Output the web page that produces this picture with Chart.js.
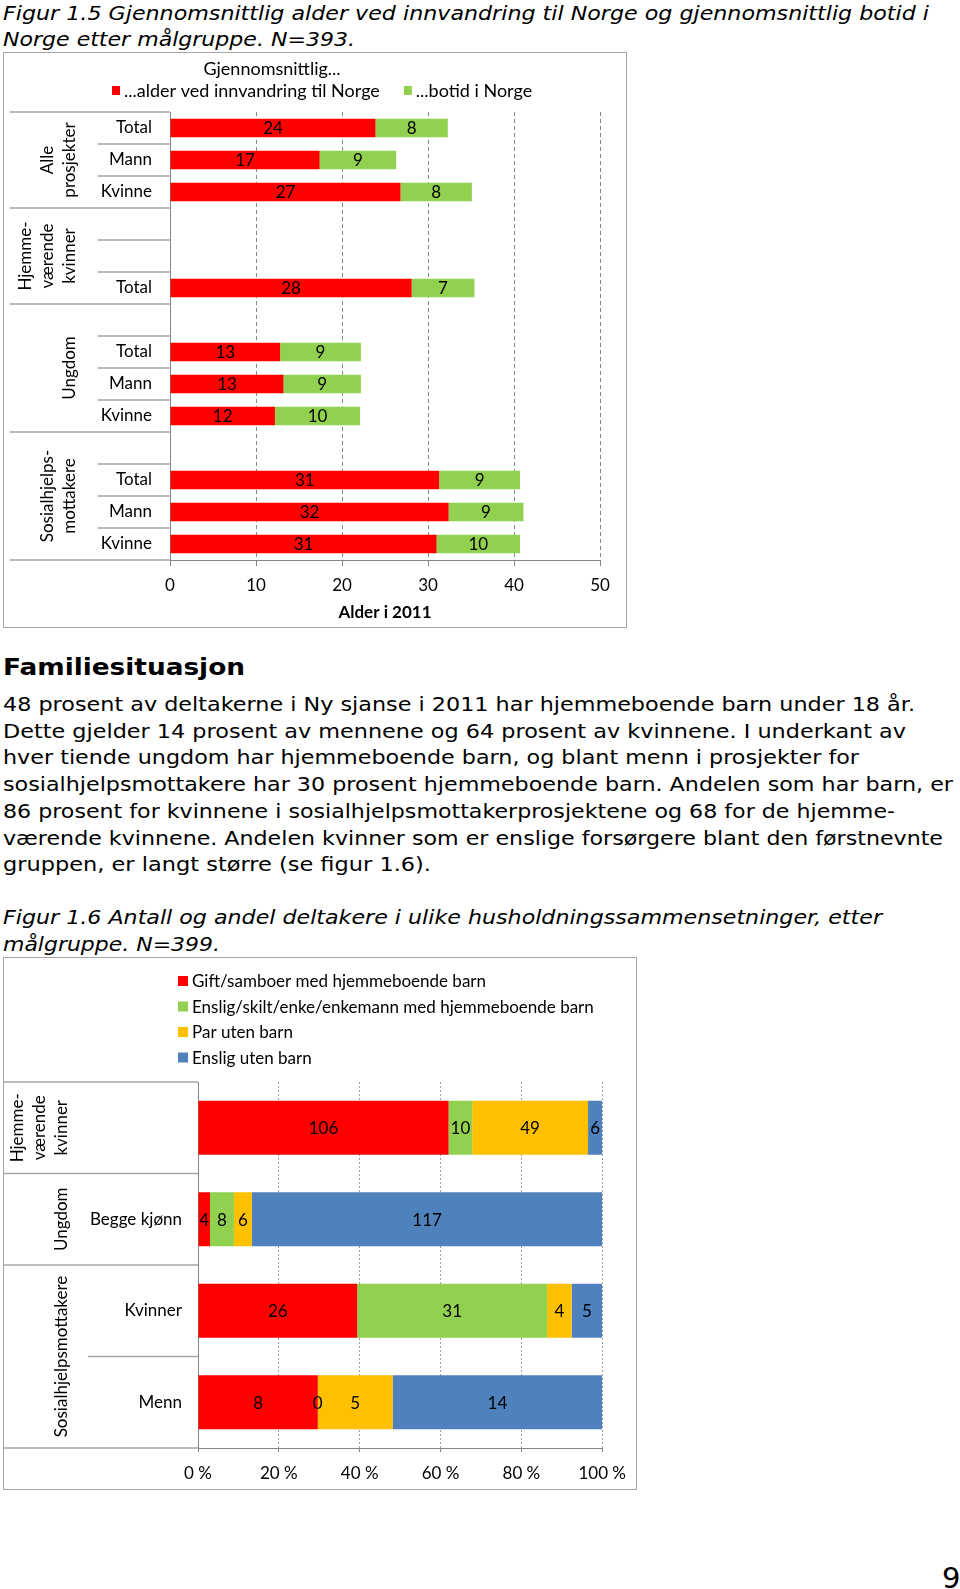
<!DOCTYPE html>
<html lang="no">
<head>
<meta charset="utf-8">
<title>Figur 1.5 og 1.6</title>
<script src="https://cdn.jsdelivr.net/npm/chart.js@4"></script>
<style>
  html, body { margin: 0; padding: 0; background: #fff; }
  body { width: 960px; height: 1589px; position: relative; overflow: hidden;
         font-family: "DejaVu Sans", Verdana, sans-serif; color: #000; }
  .linje { position: absolute; left: 3px; white-space: nowrap; font-size: 19px;
           line-height: 26px; transform-origin: 0 0; }
  .kursiv { font-style: italic; }
  .boks { position: absolute; border: 1.5px solid #a6a6a6; box-sizing: border-box; }
  canvas { position: absolute; }
</style>
</head>
<body>

<div class="linje kursiv" style="top:0px" data-w="926">Figur 1.5 Gjennomsnittlig alder ved innvandring til Norge og gjennomsnittlig botid i</div>
<div class="linje kursiv" style="top:26px" data-w="352">Norge etter målgruppe. N=393.</div>

<div class="boks" style="left:3px;top:52px;width:624px;height:576px"></div>
<canvas id="figur15" width="624" height="576" style="left:3px;top:52px"></canvas>

<div class="linje" style="top:653px;font-size:23px;line-height:28px;font-weight:bold" data-w="242">Familiesituasjon</div>
<div class="linje" style="top:691px" data-w="912">48 prosent av deltakerne i Ny sjanse i 2011 har hjemmeboende barn under 18 år.</div>
<div class="linje" style="top:718px" data-w="903">Dette gjelder 14 prosent av mennene og 64 prosent av kvinnene. I underkant av</div>
<div class="linje" style="top:744px" data-w="856">hver tiende ungdom har hjemmeboende barn, og blant menn i prosjekter for</div>
<div class="linje" style="top:771px" data-w="950">sosialhjelpsmottakere har 30 prosent hjemmeboende barn. Andelen som har barn, er</div>
<div class="linje" style="top:798px" data-w="892">86 prosent for kvinnene i sosialhjelpsmottakerprosjektene og 68 for de hjemme-</div>
<div class="linje" style="top:825px" data-w="940">værende kvinnene. Andelen kvinner som er enslige forsørgere blant den førstnevnte</div>
<div class="linje" style="top:851px" data-w="428">gruppen, er langt større (se figur 1.6).</div>

<div class="linje kursiv" style="top:904px" data-w="879">Figur 1.6 Antall og andel deltakere i ulike husholdningssammensetninger, etter</div>
<div class="linje kursiv" style="top:931px" data-w="217">målgruppe. N=399.</div>

<div class="boks" style="left:3px;top:957px;width:634px;height:533px"></div>
<canvas id="figur16" width="634" height="533" style="left:3px;top:957px"></canvas>

<div class="linje" style="left:942px;top:1561px;font-size:29px;line-height:34px">9</div>

<script>
// Figur 1.5: gjennomsnittlig alder ved innvandring og botid (år)
const radTop = ['Total', 'Mann', 'Kvinne', '', '', 'Total', '', 'Total', 'Mann', 'Kvinne', '', 'Total', 'Mann', 'Kvinne'];
const alderVedInnvandring = [23.9, 17.4, 26.8, null, null, 28.1, null, 12.8, 13.2, 12.2, null, 31.3, 32.4, 31.0];
const botidINorge = [8.4, 8.9, 8.3, null, null, 7.3, null, 9.4, 9.0, 9.9, null, 9.4, 8.7, 9.7];
const serieNavnTop = ['...alder ved innvandring til Norge', '...botid i Norge'];
const legendeTittelTop = 'Gjennomsnittlig...';
const grupperTop = [
  { navn: ['Alle', 'prosjekter'], fra: 0, til: 2 },
  { navn: ['Hjemme-', 'værende', 'kvinner'], fra: 3, til: 5 },
  { navn: ['Ungdom'], fra: 6, til: 9 },
  { navn: ['Sosialhjelps-', 'mottakere'], fra: 10, til: 13 },
];
const alderTicks = [0, 10, 20, 30, 40, 50];

// Figur 1.6: antall deltakere per husholdningstype
const radBunn = ['', 'Begge kjønn', 'Kvinner', 'Menn'];
const giftMedBarn = [106, 4, 26, 8];
const ensligMedBarn = [10, 8, 31, 0];
const parUtenBarn = [49, 6, 4, 5];
const ensligUtenBarn = [6, 117, 5, 14];
const serieNavnBunn = [
  'Gift/samboer med hjemmeboende barn',
  'Enslig/skilt/enke/enkemann med hjemmeboende barn',
  'Par uten barn',
  'Enslig uten barn',
];
const grupperBunn = [
  { navn: ['Hjemme-', 'værende', 'kvinner'], fra: 0, til: 0 },
  { navn: ['Ungdom'], fra: 1, til: 1 },
  { navn: ['Sosialhjelpsmottakere'], fra: 2, til: 3 },
];
const prosentTicks = [0, 20, 40, 60, 80, 100];

const RED = '#ff0000', GREEN = '#92d050', YELLOW = '#ffc000', BLUE = '#4f81bd';
const LINJE = '#a6a6a6', AKSE = '#868686';

Chart.defaults.font.family = 'Lato';
Chart.defaults.font.size = 17;
Chart.defaults.color = '#000';

// tilpass tekstlinjene til bredden i originalen
document.querySelectorAll('.linje[data-w]').forEach(function (el) {
  const w = el.getBoundingClientRect().width;
  el.style.transform = 'scaleX(' + (+el.dataset.w / w) + ')';
});

function etiketter(tekst) {
  return {
    id: 'etiketter',
    afterDatasetsDraw(chart) {
      const ctx = chart.ctx;
      ctx.save();
      ctx.font = '17px Lato';
      ctx.fillStyle = '#000';
      ctx.textAlign = 'center';
      ctx.textBaseline = 'middle';
      chart.data.datasets.forEach(function (ds, i) {
        chart.getDatasetMeta(i).data.forEach(function (bar, j) {
          const t = tekst(i, j);
          if (t == null) return;
          ctx.fillText(t, (bar.x + bar.base) / 2, bar.y + 1);
        });
      });
      ctx.restore();
    },
  };
}

// linjer og gruppetekster til venstre for diagrammet
function tabell(grupper, o) {
  return {
    id: 'tabell',
    afterDraw(chart) {
      const ctx = chart.ctx;
      const y = chart.scales.y;
      const n = chart.data.labels.length;
      const halv = (y.getPixelForValue(1) - y.getPixelForValue(0)) / 2;
      const grenser = [0];
      grupper.forEach(function (g) { grenser.push(g.til + 1); });
      ctx.save();
      ctx.strokeStyle = LINJE;
      ctx.lineWidth = 1.5;
      for (let i = 0; i <= n; i++) {
        const py = i < n ? y.getPixelForValue(i) - halv : y.getPixelForValue(n - 1) + halv;
        const x0 = grenser.includes(i) ? o.gruppeX : o.radX;
        ctx.beginPath();
        ctx.moveTo(x0, py);
        ctx.lineTo(chart.chartArea.left, py);
        ctx.stroke();
      }
      ctx.fillStyle = '#000';
      ctx.font = '17px Lato';
      ctx.textAlign = 'center';
      ctx.textBaseline = 'middle';
      grupper.forEach(function (g) {
        const midt = (y.getPixelForValue(g.fra) + y.getPixelForValue(g.til)) / 2;
        g.navn.forEach(function (t, k) {
          const px = o.tekstX - (g.navn.length - 1 - k) * o.avstand;
          ctx.save();
          ctx.translate(px, midt);
          ctx.rotate(-Math.PI / 2);
          ctx.fillText(t, 0, 0);
          ctx.restore();
        });
      });
      ctx.restore();
    },
  };
}

const legendeTop = {
  id: 'legendeTop',
  afterDraw(chart) {
    const ctx = chart.ctx;
    ctx.save();
    ctx.font = '18px Lato';
    ctx.fillStyle = '#000';
    ctx.textBaseline = 'middle';
    ctx.textAlign = 'center';
    ctx.fillText(legendeTittelTop, 269, 17);
    ctx.textAlign = 'left';
    let x = 109;
    chart.data.datasets.forEach(function (ds) {
      ctx.fillStyle = ds.backgroundColor;
      ctx.fillRect(x, 34, 8, 9);
      ctx.fillStyle = '#000';
      ctx.fillText(ds.label, x + 12, 39);
      x += 12 + ctx.measureText(ds.label).width + 24;
    });
    ctx.restore();
  },
};

const legendeBunn = {
  id: 'legendeBunn',
  afterDraw(chart) {
    const ctx = chart.ctx;
    ctx.save();
    ctx.font = '17px Lato';
    ctx.textBaseline = 'middle';
    ctx.textAlign = 'left';
    chart.data.datasets.forEach(function (ds, i) {
      const py = 24 + i * 25.5;
      ctx.fillStyle = ds.backgroundColor;
      ctx.fillRect(175, py - 5, 10, 10);
      ctx.fillStyle = '#000';
      ctx.fillText(ds.label, 189, py + 1);
    });
    ctx.restore();
  },
};

new Chart(document.getElementById('figur15'), {
  type: 'bar',
  data: {
    labels: radTop,
    datasets: [
      { label: serieNavnTop[0], data: alderVedInnvandring, backgroundColor: RED },
      { label: serieNavnTop[1], data: botidINorge, backgroundColor: GREEN },
    ],
  },
  options: {
    indexAxis: 'y',
    responsive: false,
    animation: false,
    layout: { padding: { left: 0, right: 27, top: 60, bottom: 0 } },
    datasets: { bar: { barPercentage: 0.58, categoryPercentage: 1 } },
    plugins: { legend: { display: false }, tooltip: { enabled: false } },
    scales: {
      x: {
        stacked: true,
        min: alderTicks[0],
        max: alderTicks[alderTicks.length - 1],
        ticks: { stepSize: 10, padding: 9 },
        grid: { color: AKSE, tickLength: 6, tickColor: AKSE, tickBorderDash: [] },
        border: { display: true, color: AKSE, dash: [4, 3] },
        title: { display: true, text: 'Alder i 2011', font: { weight: 'bold', size: 17 }, padding: { top: 0, bottom: 5 } },
        afterFit(s) { s.height = 68; },
      },
      y: {
        stacked: true,
        grid: { display: false, drawTicks: false },
        border: { display: true, color: AKSE },
        ticks: { padding: 18, autoSkip: false },
        afterFit(s) { s.width = 167; },
      },
    },
  },
  plugins: [
    tabell(grupperTop, { gruppeX: 7, radX: 95, tekstX: 67, avstand: 22 }),
    legendeTop,
    etiketter(function (i, j) {
      const v = (i === 0 ? alderVedInnvandring : botidINorge)[j];
      return v == null ? null : String(Math.round(v));
    }),
  ],
});

const serierBunn = [giftMedBarn, ensligMedBarn, parUtenBarn, ensligUtenBarn];
const sumRad = radBunn.map(function (_, j) {
  return serierBunn.reduce(function (s, a) { return s + a[j]; }, 0);
});
const iProsent = function (a) { return a.map(function (v, j) { return v / sumRad[j] * 100; }); };

new Chart(document.getElementById('figur16'), {
  type: 'bar',
  data: {
    labels: radBunn,
    datasets: [
      { label: serieNavnBunn[0], data: iProsent(giftMedBarn), backgroundColor: RED },
      { label: serieNavnBunn[1], data: iProsent(ensligMedBarn), backgroundColor: GREEN },
      { label: serieNavnBunn[2], data: iProsent(parUtenBarn), backgroundColor: YELLOW },
      { label: serieNavnBunn[3], data: iProsent(ensligUtenBarn), backgroundColor: BLUE },
    ],
  },
  options: {
    indexAxis: 'y',
    responsive: false,
    animation: false,
    layout: { padding: { left: 0, right: 32, top: 125, bottom: 0 } },
    datasets: { bar: { barPercentage: 0.59, categoryPercentage: 1 } },
    plugins: { legend: { display: false }, tooltip: { enabled: false } },
    scales: {
      x: {
        stacked: true,
        min: prosentTicks[0],
        max: prosentTicks[prosentTicks.length - 1],
        ticks: { stepSize: 20, padding: 11, callback: function (v) { return v + ' %'; } },
        grid: { color: '#a0a0a0', tickLength: 4, tickColor: AKSE, tickBorderDash: [] },
        border: { display: true, color: AKSE, dash: [2, 2] },
        afterFit(s) { s.height = 42; },
      },
      y: {
        stacked: true,
        grid: { display: false, drawTicks: false },
        border: { display: true, color: AKSE },
        ticks: { padding: 16, autoSkip: false },
        afterFit(s) { s.width = 195; },
      },
    },
  },
  plugins: [
    tabell(grupperBunn, { gruppeX: 0, radX: 85, tekstX: 59, avstand: 22 }),
    legendeBunn,
    etiketter(function (i, j) { return String(serierBunn[i][j]); }),
  ],
});
</script>
</body>
</html>
